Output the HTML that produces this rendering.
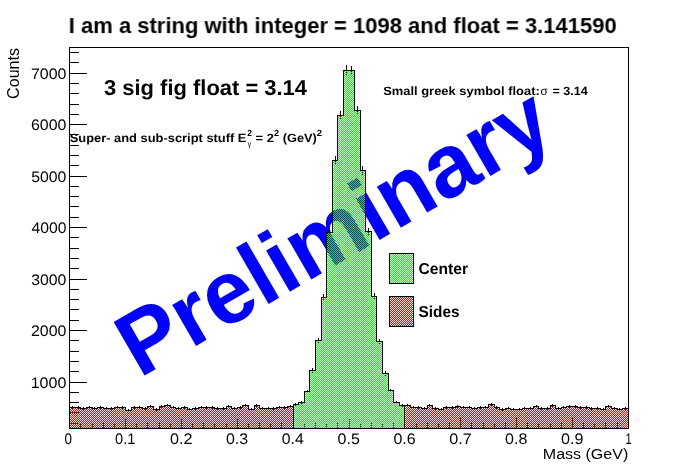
<!DOCTYPE html>
<html><head><meta charset="utf-8"><title>ROOT canvas</title>
<style>
html,body{margin:0;padding:0;background:#fff;}
body{width:698px;height:476px;overflow:hidden;font-family:"Liberation Sans",sans-serif;}
svg text{font-family:"Liberation Sans",sans-serif;}
</style></head><body>
<svg width="698" height="476" viewBox="0 0 698 476" style="display:block">
<defs>
<pattern id="pg" width="2" height="2" patternUnits="userSpaceOnUse"><rect x="1" y="0" width="1" height="1" fill="#00ff00"/><rect x="0" y="1" width="1" height="1" fill="#00ff00"/></pattern>
<pattern id="pr" width="2" height="2" patternUnits="userSpaceOnUse"><rect x="1" y="0" width="1" height="1" fill="#ff0000"/><rect x="0" y="1" width="1" height="1" fill="#ff0000"/></pattern>
</defs>
<rect width="698" height="476" fill="#ffffff"/>
<text id="wm" transform="translate(139.5 378.5) rotate(-30.00) scale(0.9850 1)" font-weight="bold" font-size="90.0" fill="#0000ff">Preliminary</text>
<g stroke="#000" stroke-width="1" shape-rendering="crispEdges" fill="none">
<line x1="69.5" y1="428.5" x2="69.5" y2="417.5"/>
<line x1="80.5" y1="428.5" x2="80.5" y2="422.5"/>
<line x1="92.5" y1="428.5" x2="92.5" y2="422.5"/>
<line x1="103.5" y1="428.5" x2="103.5" y2="422.5"/>
<line x1="114.5" y1="428.5" x2="114.5" y2="422.5"/>
<line x1="125.5" y1="428.5" x2="125.5" y2="417.5"/>
<line x1="136.5" y1="428.5" x2="136.5" y2="422.5"/>
<line x1="147.5" y1="428.5" x2="147.5" y2="422.5"/>
<line x1="159.5" y1="428.5" x2="159.5" y2="422.5"/>
<line x1="170.5" y1="428.5" x2="170.5" y2="422.5"/>
<line x1="181.5" y1="428.5" x2="181.5" y2="417.5"/>
<line x1="192.5" y1="428.5" x2="192.5" y2="422.5"/>
<line x1="203.5" y1="428.5" x2="203.5" y2="422.5"/>
<line x1="214.5" y1="428.5" x2="214.5" y2="422.5"/>
<line x1="226.5" y1="428.5" x2="226.5" y2="422.5"/>
<line x1="237.5" y1="428.5" x2="237.5" y2="417.5"/>
<line x1="248.5" y1="428.5" x2="248.5" y2="422.5"/>
<line x1="259.5" y1="428.5" x2="259.5" y2="422.5"/>
<line x1="270.5" y1="428.5" x2="270.5" y2="422.5"/>
<line x1="281.5" y1="428.5" x2="281.5" y2="422.5"/>
<line x1="293.5" y1="428.5" x2="293.5" y2="417.5"/>
<line x1="304.5" y1="428.5" x2="304.5" y2="422.5"/>
<line x1="315.5" y1="428.5" x2="315.5" y2="422.5"/>
<line x1="326.5" y1="428.5" x2="326.5" y2="422.5"/>
<line x1="337.5" y1="428.5" x2="337.5" y2="422.5"/>
<line x1="349.5" y1="428.5" x2="349.5" y2="417.5"/>
<line x1="360.5" y1="428.5" x2="360.5" y2="422.5"/>
<line x1="371.5" y1="428.5" x2="371.5" y2="422.5"/>
<line x1="382.5" y1="428.5" x2="382.5" y2="422.5"/>
<line x1="393.5" y1="428.5" x2="393.5" y2="422.5"/>
<line x1="404.5" y1="428.5" x2="404.5" y2="417.5"/>
<line x1="416.5" y1="428.5" x2="416.5" y2="422.5"/>
<line x1="427.5" y1="428.5" x2="427.5" y2="422.5"/>
<line x1="438.5" y1="428.5" x2="438.5" y2="422.5"/>
<line x1="449.5" y1="428.5" x2="449.5" y2="422.5"/>
<line x1="460.5" y1="428.5" x2="460.5" y2="417.5"/>
<line x1="471.5" y1="428.5" x2="471.5" y2="422.5"/>
<line x1="483.5" y1="428.5" x2="483.5" y2="422.5"/>
<line x1="494.5" y1="428.5" x2="494.5" y2="422.5"/>
<line x1="505.5" y1="428.5" x2="505.5" y2="422.5"/>
<line x1="516.5" y1="428.5" x2="516.5" y2="417.5"/>
<line x1="527.5" y1="428.5" x2="527.5" y2="422.5"/>
<line x1="538.5" y1="428.5" x2="538.5" y2="422.5"/>
<line x1="550.5" y1="428.5" x2="550.5" y2="422.5"/>
<line x1="561.5" y1="428.5" x2="561.5" y2="422.5"/>
<line x1="572.5" y1="428.5" x2="572.5" y2="417.5"/>
<line x1="583.5" y1="428.5" x2="583.5" y2="422.5"/>
<line x1="594.5" y1="428.5" x2="594.5" y2="422.5"/>
<line x1="605.5" y1="428.5" x2="605.5" y2="422.5"/>
<line x1="617.5" y1="428.5" x2="617.5" y2="422.5"/>
<line x1="628.5" y1="428.5" x2="628.5" y2="417.5"/>
<line x1="69.5" y1="423.5" x2="78.5" y2="423.5"/>
<line x1="69.5" y1="412.5" x2="78.5" y2="412.5"/>
<line x1="69.5" y1="402.5" x2="78.5" y2="402.5"/>
<line x1="69.5" y1="392.5" x2="78.5" y2="392.5"/>
<line x1="69.5" y1="382.5" x2="86.5" y2="382.5"/>
<line x1="69.5" y1="371.5" x2="78.5" y2="371.5"/>
<line x1="69.5" y1="361.5" x2="78.5" y2="361.5"/>
<line x1="69.5" y1="351.5" x2="78.5" y2="351.5"/>
<line x1="69.5" y1="340.5" x2="78.5" y2="340.5"/>
<line x1="69.5" y1="330.5" x2="86.5" y2="330.5"/>
<line x1="69.5" y1="320.5" x2="78.5" y2="320.5"/>
<line x1="69.5" y1="309.5" x2="78.5" y2="309.5"/>
<line x1="69.5" y1="299.5" x2="78.5" y2="299.5"/>
<line x1="69.5" y1="289.5" x2="78.5" y2="289.5"/>
<line x1="69.5" y1="279.5" x2="86.5" y2="279.5"/>
<line x1="69.5" y1="268.5" x2="78.5" y2="268.5"/>
<line x1="69.5" y1="258.5" x2="78.5" y2="258.5"/>
<line x1="69.5" y1="248.5" x2="78.5" y2="248.5"/>
<line x1="69.5" y1="237.5" x2="78.5" y2="237.5"/>
<line x1="69.5" y1="227.5" x2="86.5" y2="227.5"/>
<line x1="69.5" y1="217.5" x2="78.5" y2="217.5"/>
<line x1="69.5" y1="206.5" x2="78.5" y2="206.5"/>
<line x1="69.5" y1="196.5" x2="78.5" y2="196.5"/>
<line x1="69.5" y1="186.5" x2="78.5" y2="186.5"/>
<line x1="69.5" y1="176.5" x2="86.5" y2="176.5"/>
<line x1="69.5" y1="165.5" x2="78.5" y2="165.5"/>
<line x1="69.5" y1="155.5" x2="78.5" y2="155.5"/>
<line x1="69.5" y1="145.5" x2="78.5" y2="145.5"/>
<line x1="69.5" y1="134.5" x2="78.5" y2="134.5"/>
<line x1="69.5" y1="124.5" x2="86.5" y2="124.5"/>
<line x1="69.5" y1="114.5" x2="78.5" y2="114.5"/>
<line x1="69.5" y1="104.5" x2="78.5" y2="104.5"/>
<line x1="69.5" y1="93.5" x2="78.5" y2="93.5"/>
<line x1="69.5" y1="83.5" x2="78.5" y2="83.5"/>
<line x1="69.5" y1="73.5" x2="86.5" y2="73.5"/>
<line x1="69.5" y1="62.5" x2="78.5" y2="62.5"/>
<line x1="69.5" y1="52.5" x2="78.5" y2="52.5"/>
</g>
<g stroke="#000" stroke-width="1" fill="none" shape-rendering="crispEdges">
<line x1="72.5" y1="406.0" x2="72.5" y2="409.0"/>
<line x1="78.5" y1="406.0" x2="78.5" y2="409.0"/>
<line x1="83.5" y1="407.0" x2="83.5" y2="410.0"/>
<line x1="89.5" y1="406.0" x2="89.5" y2="409.0"/>
<line x1="94.5" y1="407.0" x2="94.5" y2="410.0"/>
<line x1="100.5" y1="406.0" x2="100.5" y2="409.0"/>
<line x1="106.5" y1="407.0" x2="106.5" y2="410.0"/>
<line x1="111.5" y1="407.0" x2="111.5" y2="410.0"/>
<line x1="117.5" y1="406.0" x2="117.5" y2="409.0"/>
<line x1="122.5" y1="406.0" x2="122.5" y2="409.0"/>
<line x1="128.5" y1="409.0" x2="128.5" y2="412.0"/>
<line x1="134.5" y1="406.0" x2="134.5" y2="409.0"/>
<line x1="139.5" y1="406.0" x2="139.5" y2="409.0"/>
<line x1="145.5" y1="407.0" x2="145.5" y2="410.0"/>
<line x1="150.5" y1="405.0" x2="150.5" y2="408.0"/>
<line x1="156.5" y1="408.0" x2="156.5" y2="411.0"/>
<line x1="161.5" y1="405.0" x2="161.5" y2="408.0"/>
<line x1="167.5" y1="404.0" x2="167.5" y2="407.0"/>
<line x1="173.5" y1="406.0" x2="173.5" y2="409.0"/>
<line x1="178.5" y1="407.0" x2="178.5" y2="410.0"/>
<line x1="184.5" y1="406.0" x2="184.5" y2="409.0"/>
<line x1="189.5" y1="408.0" x2="189.5" y2="411.0"/>
<line x1="195.5" y1="407.0" x2="195.5" y2="410.0"/>
<line x1="201.5" y1="406.0" x2="201.5" y2="409.0"/>
<line x1="206.5" y1="406.0" x2="206.5" y2="409.0"/>
<line x1="212.5" y1="406.0" x2="212.5" y2="409.0"/>
<line x1="217.5" y1="407.0" x2="217.5" y2="410.0"/>
<line x1="223.5" y1="407.0" x2="223.5" y2="410.0"/>
<line x1="228.5" y1="405.0" x2="228.5" y2="408.0"/>
<line x1="234.5" y1="407.0" x2="234.5" y2="410.0"/>
<line x1="240.5" y1="406.0" x2="240.5" y2="409.0"/>
<line x1="245.5" y1="404.0" x2="245.5" y2="407.0"/>
<line x1="251.5" y1="408.0" x2="251.5" y2="411.0"/>
<line x1="256.5" y1="404.0" x2="256.5" y2="407.0"/>
<line x1="262.5" y1="407.0" x2="262.5" y2="410.0"/>
<line x1="268.5" y1="407.0" x2="268.5" y2="410.0"/>
<line x1="273.5" y1="407.0" x2="273.5" y2="410.0"/>
<line x1="279.5" y1="406.0" x2="279.5" y2="409.0"/>
<line x1="284.5" y1="406.0" x2="284.5" y2="409.0"/>
<line x1="290.5" y1="405.0" x2="290.5" y2="408.0"/>
<line x1="295.5" y1="403.0" x2="295.5" y2="406.0"/>
<line x1="301.5" y1="401.0" x2="301.5" y2="404.0"/>
<line x1="307.5" y1="390.0" x2="307.5" y2="393.0"/>
<line x1="312.5" y1="368.0" x2="312.5" y2="373.0"/>
<line x1="318.5" y1="338.0" x2="318.5" y2="343.0"/>
<line x1="323.5" y1="294.0" x2="323.5" y2="301.0"/>
<line x1="329.5" y1="229.0" x2="329.5" y2="236.0"/>
<line x1="335.5" y1="156.0" x2="335.5" y2="165.0"/>
<line x1="340.5" y1="111.0" x2="340.5" y2="120.0"/>
<line x1="346.5" y1="65.0" x2="346.5" y2="76.0"/>
<line x1="351.5" y1="66.0" x2="351.5" y2="75.0"/>
<line x1="357.5" y1="106.0" x2="357.5" y2="115.0"/>
<line x1="362.5" y1="166.0" x2="362.5" y2="175.0"/>
<line x1="368.5" y1="228.0" x2="368.5" y2="235.0"/>
<line x1="374.5" y1="293.0" x2="374.5" y2="300.0"/>
<line x1="379.5" y1="339.0" x2="379.5" y2="344.0"/>
<line x1="385.5" y1="371.0" x2="385.5" y2="376.0"/>
<line x1="390.5" y1="389.0" x2="390.5" y2="392.0"/>
<line x1="396.5" y1="401.0" x2="396.5" y2="404.0"/>
<line x1="402.5" y1="404.0" x2="402.5" y2="407.0"/>
<line x1="407.5" y1="404.0" x2="407.5" y2="407.0"/>
<line x1="413.5" y1="406.0" x2="413.5" y2="409.0"/>
<line x1="418.5" y1="406.0" x2="418.5" y2="409.0"/>
<line x1="424.5" y1="407.0" x2="424.5" y2="410.0"/>
<line x1="429.5" y1="404.0" x2="429.5" y2="407.0"/>
<line x1="435.5" y1="407.0" x2="435.5" y2="410.0"/>
<line x1="441.5" y1="408.0" x2="441.5" y2="411.0"/>
<line x1="446.5" y1="406.0" x2="446.5" y2="409.0"/>
<line x1="452.5" y1="406.0" x2="452.5" y2="409.0"/>
<line x1="457.5" y1="405.0" x2="457.5" y2="408.0"/>
<line x1="463.5" y1="406.0" x2="463.5" y2="409.0"/>
<line x1="469.5" y1="406.0" x2="469.5" y2="409.0"/>
<line x1="474.5" y1="407.0" x2="474.5" y2="410.0"/>
<line x1="480.5" y1="406.0" x2="480.5" y2="409.0"/>
<line x1="485.5" y1="406.0" x2="485.5" y2="409.0"/>
<line x1="491.5" y1="403.0" x2="491.5" y2="406.0"/>
<line x1="496.5" y1="406.0" x2="496.5" y2="409.0"/>
<line x1="502.5" y1="408.0" x2="502.5" y2="411.0"/>
<line x1="508.5" y1="407.0" x2="508.5" y2="410.0"/>
<line x1="513.5" y1="408.0" x2="513.5" y2="411.0"/>
<line x1="519.5" y1="408.0" x2="519.5" y2="411.0"/>
<line x1="524.5" y1="407.0" x2="524.5" y2="410.0"/>
<line x1="530.5" y1="407.0" x2="530.5" y2="410.0"/>
<line x1="536.5" y1="405.0" x2="536.5" y2="408.0"/>
<line x1="541.5" y1="407.0" x2="541.5" y2="410.0"/>
<line x1="547.5" y1="407.0" x2="547.5" y2="410.0"/>
<line x1="552.5" y1="404.0" x2="552.5" y2="407.0"/>
<line x1="558.5" y1="407.0" x2="558.5" y2="410.0"/>
<line x1="563.5" y1="406.0" x2="563.5" y2="409.0"/>
<line x1="569.5" y1="405.0" x2="569.5" y2="408.0"/>
<line x1="575.5" y1="405.0" x2="575.5" y2="408.0"/>
<line x1="580.5" y1="406.0" x2="580.5" y2="409.0"/>
<line x1="586.5" y1="406.0" x2="586.5" y2="409.0"/>
<line x1="591.5" y1="407.0" x2="591.5" y2="410.0"/>
<line x1="597.5" y1="407.0" x2="597.5" y2="410.0"/>
<line x1="603.5" y1="408.0" x2="603.5" y2="411.0"/>
<line x1="608.5" y1="405.0" x2="608.5" y2="408.0"/>
<line x1="614.5" y1="407.0" x2="614.5" y2="410.0"/>
<line x1="619.5" y1="408.0" x2="619.5" y2="411.0"/>
<line x1="625.5" y1="407.0" x2="625.5" y2="410.0"/>
</g>
<g shape-rendering="crispEdges" stroke="none">
<path d="M69.0 428.5 L69.0 407.0 L76.0 407.0 L75.0 407.0 L81.0 407.0 L80.0 408.0 L87.0 408.0 L86.0 407.0 L93.0 407.0 L92.0 408.0 L98.0 408.0 L97.0 407.0 L104.0 407.0 L103.0 408.0 L109.0 408.0 L108.0 408.0 L115.0 408.0 L114.0 407.0 L121.0 407.0 L120.0 407.0 L126.0 407.0 L125.0 410.0 L132.0 410.0 L131.0 407.0 L137.0 407.0 L136.0 407.0 L143.0 407.0 L142.0 408.0 L148.0 408.0 L147.0 406.0 L154.0 406.0 L153.0 409.0 L160.0 409.0 L159.0 406.0 L165.0 406.0 L164.0 405.0 L171.0 405.0 L170.0 407.0 L176.0 407.0 L175.0 408.0 L182.0 408.0 L181.0 407.0 L188.0 407.0 L187.0 409.0 L193.0 409.0 L192.0 408.0 L199.0 408.0 L198.0 407.0 L204.0 407.0 L203.0 407.0 L210.0 407.0 L209.0 407.0 L215.0 407.0 L214.0 408.0 L221.0 408.0 L220.0 408.0 L227.0 408.0 L226.0 406.0 L232.0 406.0 L231.0 408.0 L238.0 408.0 L237.0 407.0 L243.0 407.0 L242.0 405.0 L249.0 405.0 L248.0 409.0 L255.0 409.0 L254.0 405.0 L260.0 405.0 L259.0 408.0 L266.0 408.0 L265.0 408.0 L271.0 408.0 L270.0 408.0 L277.0 408.0 L276.0 407.0 L282.0 407.0 L281.0 407.0 L288.0 407.0 L287.0 406.0 L294.0 406.0 L294.0 428.5 Z" fill="url(#pr)"/>
<path d="M404.0 428.5 L404.0 405.0 L411.0 405.0 L410.0 407.0 L417.0 407.0 L416.0 407.0 L422.0 407.0 L421.0 408.0 L428.0 408.0 L427.0 405.0 L433.0 405.0 L432.0 408.0 L439.0 408.0 L438.0 409.0 L444.0 409.0 L443.0 407.0 L450.0 407.0 L449.0 407.0 L456.0 407.0 L455.0 406.0 L461.0 406.0 L460.0 407.0 L467.0 407.0 L466.0 407.0 L472.0 407.0 L471.0 408.0 L478.0 408.0 L477.0 407.0 L484.0 407.0 L483.0 407.0 L489.0 407.0 L488.0 404.0 L495.0 404.0 L494.0 407.0 L500.0 407.0 L499.0 409.0 L506.0 409.0 L505.0 408.0 L511.0 408.0 L510.0 409.0 L517.0 409.0 L516.0 409.0 L523.0 409.0 L522.0 408.0 L528.0 408.0 L527.0 408.0 L534.0 408.0 L533.0 406.0 L539.0 406.0 L538.0 408.0 L545.0 408.0 L544.0 408.0 L551.0 408.0 L550.0 405.0 L556.0 405.0 L555.0 408.0 L562.0 408.0 L561.0 407.0 L567.0 407.0 L566.0 406.0 L573.0 406.0 L572.0 406.0 L578.0 406.0 L577.0 407.0 L584.0 407.0 L583.0 407.0 L590.0 407.0 L589.0 408.0 L595.0 408.0 L594.0 408.0 L601.0 408.0 L600.0 409.0 L606.0 409.0 L605.0 406.0 L612.0 406.0 L611.0 408.0 L618.0 408.0 L617.0 409.0 L623.0 409.0 L622.0 408.0 L629.0 408.0 L629.0 428.5 Z" fill="url(#pr)"/>
<path d="M293.0 428.5 L293.0 404.0 L299.0 404.0 L298.0 402.0 L305.0 402.0 L304.0 391.0 L310.0 391.0 L309.0 370.0 L316.0 370.0 L315.0 340.0 L322.0 340.0 L321.0 297.0 L327.0 297.0 L326.0 232.0 L333.0 232.0 L332.0 160.0 L338.0 160.0 L337.0 115.0 L344.0 115.0 L343.0 70.0 L350.0 70.0 L349.0 70.0 L355.0 70.0 L354.0 110.0 L361.0 110.0 L360.0 170.0 L366.0 170.0 L365.0 231.0 L372.0 231.0 L371.0 296.0 L377.0 296.0 L376.0 341.0 L383.0 341.0 L382.0 373.0 L389.0 373.0 L388.0 390.0 L394.0 390.0 L393.0 402.0 L400.0 402.0 L399.0 405.0 L405.0 405.0 L405.0 428.5 Z" fill="url(#pg)"/>
</g>
<g stroke="#000" stroke-width="1" fill="none" shape-rendering="crispEdges" stroke-linejoin="miter">
<path d="M69.5 428.5 L69.5 407.5 L75.5 407.5 L75.5 407.5 L80.5 407.5 L80.5 408.5 L86.5 408.5 L86.5 407.5 L92.5 407.5 L92.5 408.5 L97.5 408.5 L97.5 407.5 L103.5 407.5 L103.5 408.5 L108.5 408.5 L108.5 408.5 L114.5 408.5 L114.5 407.5 L120.5 407.5 L120.5 407.5 L125.5 407.5 L125.5 410.5 L131.5 410.5 L131.5 407.5 L136.5 407.5 L136.5 407.5 L142.5 407.5 L142.5 408.5 L147.5 408.5 L147.5 406.5 L153.5 406.5 L153.5 409.5 L159.5 409.5 L159.5 406.5 L164.5 406.5 L164.5 405.5 L170.5 405.5 L170.5 407.5 L175.5 407.5 L175.5 408.5 L181.5 408.5 L181.5 407.5 L187.5 407.5 L187.5 409.5 L192.5 409.5 L192.5 408.5 L198.5 408.5 L198.5 407.5 L203.5 407.5 L203.5 407.5 L209.5 407.5 L209.5 407.5 L214.5 407.5 L214.5 408.5 L220.5 408.5 L220.5 408.5 L226.5 408.5 L226.5 406.5 L231.5 406.5 L231.5 408.5 L237.5 408.5 L237.5 407.5 L242.5 407.5 L242.5 405.5 L248.5 405.5 L248.5 409.5 L254.5 409.5 L254.5 405.5 L259.5 405.5 L259.5 408.5 L265.5 408.5 L265.5 408.5 L270.5 408.5 L270.5 408.5 L276.5 408.5 L276.5 407.5 L281.5 407.5 L281.5 407.5 L287.5 407.5 L287.5 406.5 L293.5 406.5 L293.5 428.5"/>
<path d="M293.5 428.5 L293.5 404.5 L298.5 404.5 L298.5 402.5 L304.5 402.5 L304.5 391.5 L309.5 391.5 L309.5 370.5 L315.5 370.5 L315.5 340.5 L321.5 340.5 L321.5 297.5 L326.5 297.5 L326.5 232.5 L332.5 232.5 L332.5 160.5 L337.5 160.5 L337.5 115.5 L343.5 115.5 L343.5 70.5 L349.5 70.5 L349.5 70.5 L354.5 70.5 L354.5 110.5 L360.5 110.5 L360.5 170.5 L365.5 170.5 L365.5 231.5 L371.5 231.5 L371.5 296.5 L376.5 296.5 L376.5 341.5 L382.5 341.5 L382.5 373.5 L388.5 373.5 L388.5 390.5 L393.5 390.5 L393.5 402.5 L399.5 402.5 L399.5 405.5 L404.5 405.5 L404.5 428.5"/>
<path d="M404.5 428.5 L404.5 405.5 L410.5 405.5 L410.5 407.5 L416.5 407.5 L416.5 407.5 L421.5 407.5 L421.5 408.5 L427.5 408.5 L427.5 405.5 L432.5 405.5 L432.5 408.5 L438.5 408.5 L438.5 409.5 L443.5 409.5 L443.5 407.5 L449.5 407.5 L449.5 407.5 L455.5 407.5 L455.5 406.5 L460.5 406.5 L460.5 407.5 L466.5 407.5 L466.5 407.5 L471.5 407.5 L471.5 408.5 L477.5 408.5 L477.5 407.5 L483.5 407.5 L483.5 407.5 L488.5 407.5 L488.5 404.5 L494.5 404.5 L494.5 407.5 L499.5 407.5 L499.5 409.5 L505.5 409.5 L505.5 408.5 L510.5 408.5 L510.5 409.5 L516.5 409.5 L516.5 409.5 L522.5 409.5 L522.5 408.5 L527.5 408.5 L527.5 408.5 L533.5 408.5 L533.5 406.5 L538.5 406.5 L538.5 408.5 L544.5 408.5 L544.5 408.5 L550.5 408.5 L550.5 405.5 L555.5 405.5 L555.5 408.5 L561.5 408.5 L561.5 407.5 L566.5 407.5 L566.5 406.5 L572.5 406.5 L572.5 406.5 L577.5 406.5 L577.5 407.5 L583.5 407.5 L583.5 407.5 L589.5 407.5 L589.5 408.5 L594.5 408.5 L594.5 408.5 L600.5 408.5 L600.5 409.5 L605.5 409.5 L605.5 406.5 L611.5 406.5 L611.5 408.5 L617.5 408.5 L617.5 409.5 L622.5 409.5 L622.5 408.5 L628.5 408.5 L628.5 428.5"/>
</g>
<rect x="69.5" y="47.5" width="559.0" height="381.0" fill="none" stroke="#000" stroke-width="1" shape-rendering="crispEdges"/>
<g fill="#000" style="opacity:0.999">
<text transform="translate(68.73 33.10) skewX(0.05) scale(1.0194 1)" font-weight="bold" font-size="21.6">I am a string with integer = 1098 and float = 3.141590</text>
<text transform="translate(103.99 95.40) skewX(0.05) scale(1.0163 1)" font-weight="bold" font-size="21.6">3 sig fig float = 3.14</text>
<text transform="translate(69.73 142.05) skewX(0.05) scale(1.0746 1)" font-weight="bold" font-size="12">Super- and sub-script stuff E</text>
<text transform="translate(247.27 135.80) skewX(0.05) scale(0.9333 1)" font-weight="bold" font-size="9.0">2</text>
<text transform="translate(247.70 147.30) skewX(0.05) scale(0.8000 1)" font-weight="normal" font-size="8.4">γ</text>
<text transform="translate(255.53 142.05) skewX(0.05) scale(1.0788 1)" font-weight="bold" font-size="12">= 2</text>
<text transform="translate(273.94 135.80) skewX(0.05) scale(1.0222 1)" font-weight="bold" font-size="9.0">2</text>
<text transform="translate(282.67 142.05) skewX(0.05) scale(1.0677 1)" font-weight="bold" font-size="12">(GeV)</text>
<text transform="translate(316.63 135.80) skewX(0.05) scale(1.0667 1)" font-weight="bold" font-size="9.0">2</text>
<text transform="translate(383.13 94.60) skewX(0.05) scale(1.0780 1)" font-weight="bold" font-size="12">Small greek symbol float:</text>
<text transform="translate(540.46 94.60) skewX(0.05) scale(0.9714 1)" font-weight="normal" font-size="12">σ</text>
<text transform="translate(552.44 94.60) skewX(0.05) scale(1.0478 1)" font-weight="bold" font-size="12">= 3.14</text>
<text transform="translate(418.51 274.00) skewX(0.05) scale(0.9899 1)" font-weight="bold" font-size="15.8">Center</text>
<text transform="translate(418.51 317.00) skewX(0.05) scale(0.9756 1)" font-weight="bold" font-size="15.8">Sides</text>
<text transform="translate(542.79 459.40) scale(1.0478 1)" font-weight="normal" font-size="15.3">Mass (GeV)</text>
<text transform="translate(64.56 443.90) skewX(0.05) scale(0.8800 1)" font-weight="normal" font-size="15.3">0</text>
<text transform="translate(115.02 443.90) skewX(0.05) scale(0.9550 1)" font-weight="normal" font-size="15.3">0.1</text>
<text transform="translate(170.05 443.90) skewX(0.05) scale(1.0600 1)" font-weight="normal" font-size="15.3">0.2</text>
<text transform="translate(225.90 443.90) skewX(0.05) scale(1.0469 1)" font-weight="normal" font-size="15.3">0.3</text>
<text transform="translate(281.74 443.90) skewX(0.05) scale(1.0341 1)" font-weight="normal" font-size="15.3">0.4</text>
<text transform="translate(337.58 443.90) skewX(0.05) scale(1.0469 1)" font-weight="normal" font-size="15.3">0.5</text>
<text transform="translate(393.42 443.90) skewX(0.05) scale(1.0469 1)" font-weight="normal" font-size="15.3">0.6</text>
<text transform="translate(449.25 443.90) skewX(0.05) scale(1.0600 1)" font-weight="normal" font-size="15.3">0.7</text>
<text transform="translate(505.10 443.90) skewX(0.05) scale(1.0469 1)" font-weight="normal" font-size="15.3">0.8</text>
<text transform="translate(560.93 443.90) skewX(0.05) scale(1.0600 1)" font-weight="normal" font-size="15.3">0.9</text>
<text transform="translate(625.47 443.90) skewX(0.05) scale(0.7259 1)" font-weight="normal" font-size="15.3">1</text>
<text transform="translate(30.65 387.75) skewX(0.05) scale(1.0508 1)" font-weight="normal" font-size="15.3">1000</text>
<text transform="translate(30.92 335.75) skewX(0.05) scale(1.0427 1)" font-weight="normal" font-size="15.3">2000</text>
<text transform="translate(31.18 284.75) skewX(0.05) scale(1.0348 1)" font-weight="normal" font-size="15.3">3000</text>
<text transform="translate(31.44 232.75) skewX(0.05) scale(1.0271 1)" font-weight="normal" font-size="15.3">4000</text>
<text transform="translate(31.18 181.75) skewX(0.05) scale(1.0348 1)" font-weight="normal" font-size="15.3">5000</text>
<text transform="translate(30.92 129.75) skewX(0.05) scale(1.0427 1)" font-weight="normal" font-size="15.3">6000</text>
<text transform="translate(30.92 78.75) skewX(0.05) scale(1.0427 1)" font-weight="normal" font-size="15.3">7000</text>
<text transform="translate(19.3 48.0) rotate(-90) scale(1.017 1)" text-anchor="end" font-size="15.8">Counts</text>
</g>
<g shape-rendering="crispEdges" stroke="#000" stroke-width="1">
<rect x="389.5" y="253.5" width="24" height="30" fill="url(#pg)"/>
<rect x="389.5" y="296.5" width="24" height="30" fill="url(#pr)"/>
</g>
</svg>
</body></html>
